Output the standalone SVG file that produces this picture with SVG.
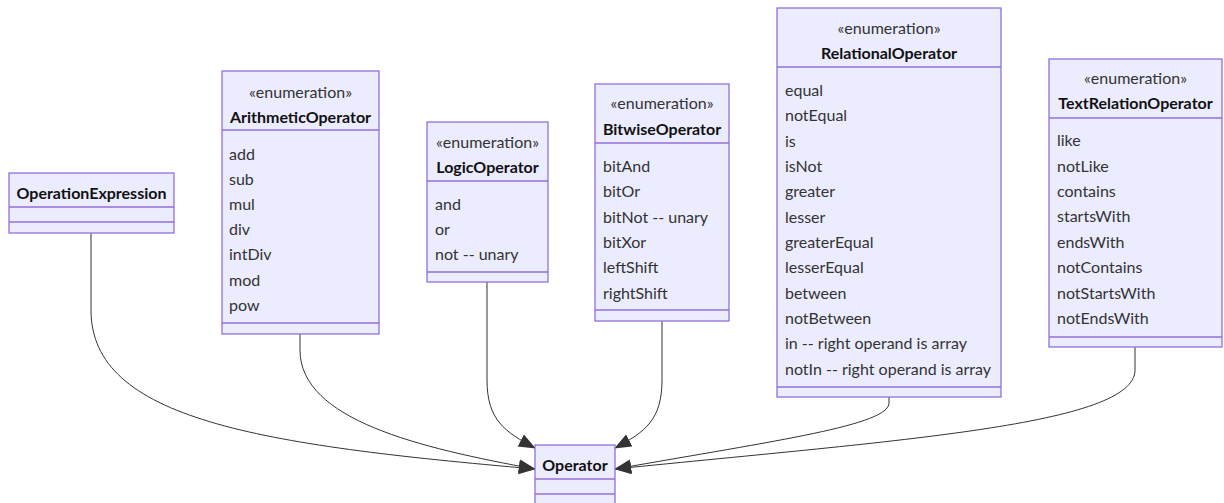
<svg xmlns="http://www.w3.org/2000/svg" width="1224" height="503" viewBox="0 0 1224 503">
  <style>
    .box { fill: #ECECFF; stroke: #9370DB; stroke-width: 1.3; }
    .div { stroke: #9370DB; stroke-width: 1.3; fill: none; }
    .st { font-family: "Lato", "Noto Sans", sans-serif; font-size: 16px; fill: #333; text-anchor: middle; dominant-baseline: central; }
    .nm { font-family: "Lato", "Noto Sans", sans-serif; font-size: 16px; font-weight: bold; fill: #111; text-anchor: middle; dominant-baseline: central; }
    .it { font-family: "Lato", "Noto Sans", sans-serif; font-size: 16px; fill: #333; dominant-baseline: central; }
    .edge { fill: none; stroke: #333; stroke-width: 1; }
  </style>
  <defs>
    <marker id="arrow" viewBox="0 0 20 16" refX="19" refY="8" markerWidth="17" markerHeight="14" markerUnits="userSpaceOnUse" orient="auto">
      <path d="M0,0 L20,8 L0,16 Z" fill="#333"/>
    </marker>
  </defs>

  <rect width="1224" height="503" fill="#fff"/>

  <g id="edges">
    <path class="edge" d="M91,233 V310 C91,420 260,445 535,469" marker-end="url(#arrow)"/>
    <path class="edge" d="M300,334 V350 C300,420 420,448 535,469" marker-end="url(#arrow)"/>
    <path class="edge" d="M487,282 V380 C487,420 505,432 535,448" marker-end="url(#arrow)"/>
    <path class="edge" d="M662,321 V380 C662,420 645,432 615,448" marker-end="url(#arrow)"/>
    <path class="edge" d="M889,397 V403 C889,425 780,440 615,469" marker-end="url(#arrow)"/>
    <path class="edge" d="M1135,347 V370 C1135,425 900,440 615,469" marker-end="url(#arrow)"/>
  </g>

  <g id="OperationExpression">
    <rect class="box" x="9" y="173" width="165" height="60"/>
    <path class="div" d="M9,207 H174 M9,222 H174"/>
    <text class="nm" x="91.5" y="192">OperationExpression</text>
  </g>

  <g id="ArithmeticOperator">
    <rect class="box" x="222" y="71" width="157" height="263"/>
    <path class="div" d="M222,130 H379 M222,323 H379"/>
    <text class="st" x="300.5" y="91">«enumeration»</text>
    <text class="nm" x="300.5" y="116">ArithmeticOperator</text>
    <text class="it" x="229" y="153">add</text>
    <text class="it" x="229" y="178">sub</text>
    <text class="it" x="229" y="203">mul</text>
    <text class="it" x="229" y="228">div</text>
    <text class="it" x="229" y="253">intDiv</text>
    <text class="it" x="229" y="279">mod</text>
    <text class="it" x="229" y="304">pow</text>
  </g>

  <g id="LogicOperator">
    <rect class="box" x="427" y="122" width="121" height="160"/>
    <path class="div" d="M427,181 H548 M427,272 H548"/>
    <text class="st" x="487.5" y="141">«enumeration»</text>
    <text class="nm" x="487.5" y="166">LogicOperator</text>
    <text class="it" x="435" y="203">and</text>
    <text class="it" x="435" y="228">or</text>
    <text class="it" x="435" y="253">not -- unary</text>
  </g>

  <g id="BitwiseOperator">
    <rect class="box" x="595" y="84" width="134" height="237"/>
    <path class="div" d="M595,143 H729 M595,310 H729"/>
    <text class="st" x="662" y="102">«enumeration»</text>
    <text class="nm" x="662" y="128">BitwiseOperator</text>
    <text class="it" x="603" y="165">bitAnd</text>
    <text class="it" x="603" y="190">bitOr</text>
    <text class="it" x="603" y="216">bitNot -- unary</text>
    <text class="it" x="603" y="241">bitXor</text>
    <text class="it" x="603" y="266">leftShift</text>
    <text class="it" x="603" y="292">rightShift</text>
  </g>

  <g id="RelationalOperator">
    <rect class="box" x="777" y="8" width="224" height="389"/>
    <path class="div" d="M777,67 H1001 M777,387 H1001"/>
    <text class="st" x="889" y="27">«enumeration»</text>
    <text class="nm" x="889" y="52">RelationalOperator</text>
    <text class="it" x="785" y="89">equal</text>
    <text class="it" x="785" y="114">notEqual</text>
    <text class="it" x="785" y="140">is</text>
    <text class="it" x="785" y="165">isNot</text>
    <text class="it" x="785" y="190">greater</text>
    <text class="it" x="785" y="216">lesser</text>
    <text class="it" x="785" y="241">greaterEqual</text>
    <text class="it" x="785" y="266">lesserEqual</text>
    <text class="it" x="785" y="292">between</text>
    <text class="it" x="785" y="317">notBetween</text>
    <text class="it" x="785" y="342">in -- right operand is array</text>
    <text class="it" x="785" y="368">notIn -- right operand is array</text>
  </g>

  <g id="TextRelationOperator">
    <rect class="box" x="1049" y="59" width="173" height="288"/>
    <path class="div" d="M1049,118 H1222 M1049,337 H1222"/>
    <text class="st" x="1135.5" y="77">«enumeration»</text>
    <text class="nm" x="1135.5" y="102">TextRelationOperator</text>
    <text class="it" x="1057" y="139">like</text>
    <text class="it" x="1057" y="165">notLike</text>
    <text class="it" x="1057" y="190">contains</text>
    <text class="it" x="1057" y="215">startsWith</text>
    <text class="it" x="1057" y="241">endsWith</text>
    <text class="it" x="1057" y="266">notContains</text>
    <text class="it" x="1057" y="292">notStartsWith</text>
    <text class="it" x="1057" y="317">notEndsWith</text>
  </g>

  <g id="Operator">
    <rect class="box" x="535" y="445" width="80" height="70"/>
    <path class="div" d="M535,479 H615 M535,494 H615"/>
    <text class="nm" x="575" y="464">Operator</text>
  </g>
</svg>
